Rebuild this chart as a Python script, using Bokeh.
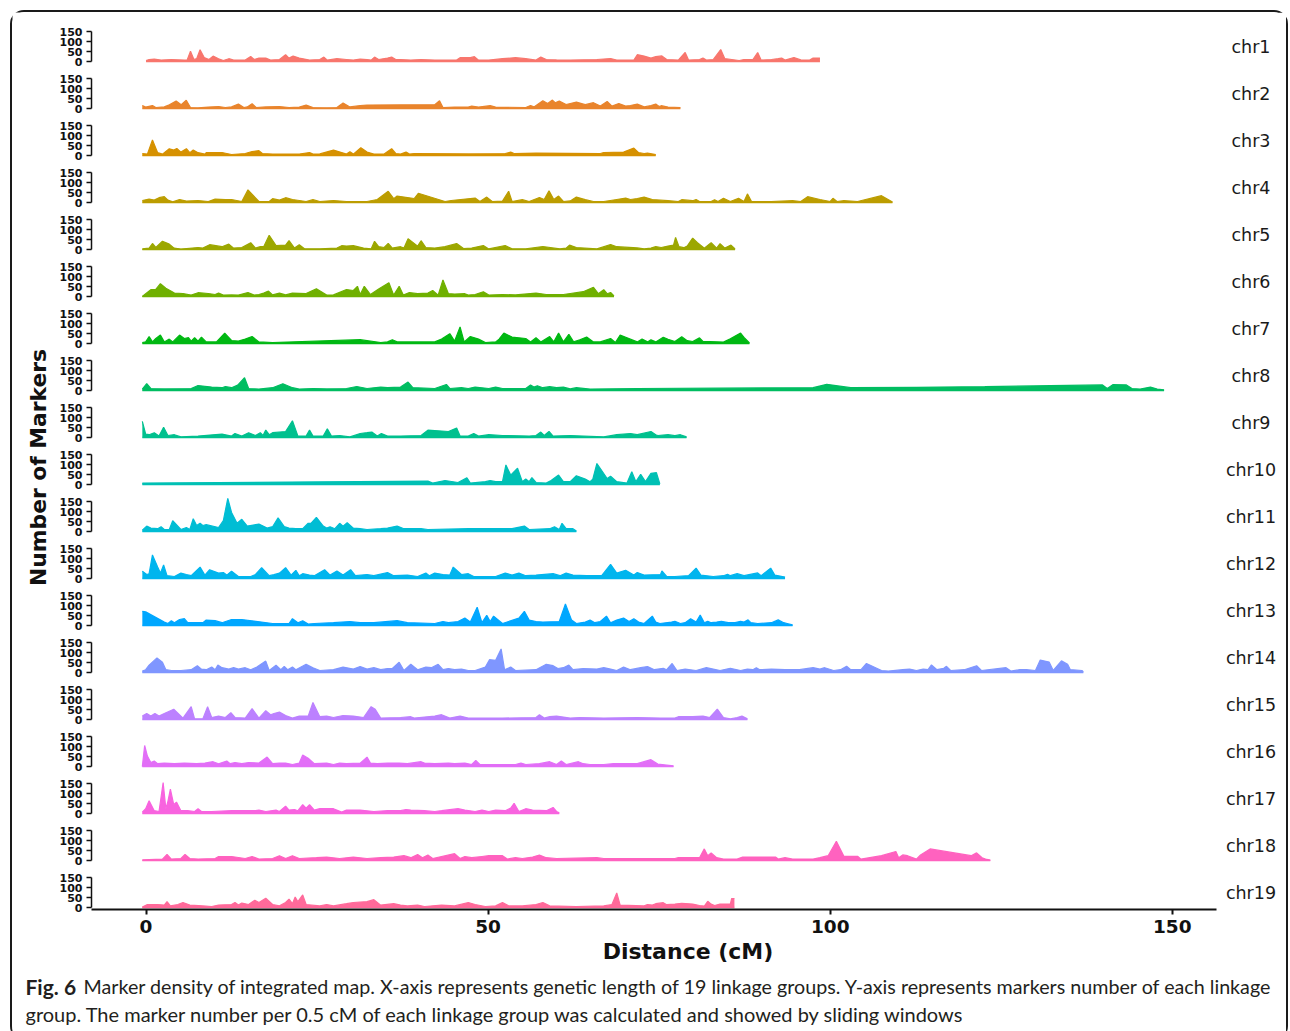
import math
from bokeh.plotting import figure
from bokeh.models import Range1d, FixedTicker, Label
from bokeh.layouts import column, row
from bokeh.embed import file_html
from bokeh.resources import INLINE

CHROMS = ["chr%d" % i for i in range(1, 20)]
X_TICKS = [0, 50, 100, 150]
Y_TICKS = [0, 50, 100, 150]
X_LABEL = "Distance (cM)"
Y_LABEL = "Number of Markers"
CAPTION_BOLD = "Fig. 6"
CAPTION_1 = ("Marker density of integrated map. X-axis represents genetic length of 19 linkage groups. "
             "Y-axis represents markers number of each linkage")
CAPTION_2 = "group. The marker number per 0.5 cM of each linkage group was calculated and showed by sliding windows"

# (position cM, number of markers)
chr1 = [(0,5),(0.45,10),(1.2,12),(2.2,7),(3.7,10),(5.6,7),(6.0,7),(6.5,51),(7.0,10),(7.4,14),(7.9,59),(8.5,20),(9.2,10),(9.8,27),(10.6,14),(11.3,5),(12.1,14),(12.8,7),(14.5,7),(15.3,25),(15.8,10),(16.5,17),(17.5,17),(18.2,7),(19.5,10),(20.4,34),(20.9,17),(21.5,27),(22.4,17),(23.9,7),(25.4,10),(26.0,22),(26.5,7),(27.9,14),(29.3,10),(30.3,7),(31.3,12),(32.3,10),(32.9,7),(33.4,22),(34.0,10),(35.3,17),(35.9,22),(36.5,10),(37.2,10),(38.7,7),(40.2,10),(42.2,7),(45.4,7),(45.9,19),(47.4,19),(48.0,24),(48.6,7),(50.1,7),(52.1,14),(54.0,19),(55.5,14),(57.0,7),(57.7,22),(58.5,10),(60.0,8),(62.0,7),(65.9,10),(67.9,15),(68.8,7),(71.3,7),(71.8,34),(72.8,27),(73.8,17),(74.5,24),(75.4,28),(76.1,10),(77.8,7),(78.8,45),(79.3,7),(80.9,10),(81.4,17),(81.9,7),(82.9,10),(84.0,60),(84.6,14),(85.6,10),(86.7,5),(87.4,10),(88.7,10),(89.4,45),(89.9,7),(91.4,10),(92.4,14),(92.9,17),(93.4,7),(94.7,20),(95.7,8),(97.0,7),(97.5,17),(98.5,17)]
chr2 = [(-0.54,15),(-0.05,7),(0.94,15),(1.43,5),(2.67,8),(3.41,19),(4.4,37),(5.14,19),(5.88,41),(6.5,5),(7.6,3),(9.1,7),(10.6,10),(11.6,5),(12.5,8),(13.5,22),(14.3,5),(14.8,8),(15.5,24),(16.1,5),(17.5,8),(19.5,10),(20.9,5),(22.4,7),(23.4,17),(24.4,5),(26.4,3),(27.9,5),(28.8,27),(29.8,8),(31.3,15),(32.3,17),(42.2,19),(42.9,39),(43.4,5),(45.1,7),(47.1,7),(47.6,12),(48.6,7),(50.3,14),(51.1,7),(55.5,5),(56.2,15),(56.7,8),(58.0,39),(58.7,25),(59.4,42),(59.8,29),(60.4,37),(61.4,20),(62.9,32),(64.2,19),(65.4,29),(66.4,12),(67.4,35),(68.1,12),(69.1,25),(70.1,12),(70.8,15),(71.8,22),(72.8,8),(73.8,15),(74.5,22),(75.0,10),(75.3,14),(76.3,7),(78.1,5)]
chr3 = [(-0.54,10),(0.2,7),(0.94,78),(1.7,14),(2.4,7),(3.4,34),(4.05,27),(4.5,35),(5.1,17),(5.9,34),(6.4,14),(6.9,27),(7.6,14),(8.6,7),(8.8,14),(11.1,15),(12.5,5),(14.5,10),(15.5,20),(16.5,24),(17.0,10),(18.5,7),(22.4,7),(23.9,15),(24.4,7),(25.4,8),(27.4,27),(29.3,7),(29.8,19),(30.3,7),(31.4,39),(32.3,17),(33.3,7),(34.8,7),(35.9,34),(36.5,10),(37.2,7),(38.0,17),(38.5,7),(39.2,10),(47.1,8),(52.5,10),(53.3,17),(53.8,10),(57.0,12),(66.4,10),(66.9,15),(69.8,17),(71.3,37),(72.0,14),(72.8,10),(73.3,12),(74.5,5)]
chr4 = [(-0.54,10),(0.45,17),(1.2,12),(1.9,24),(2.67,29),(3.2,12),(3.9,3),(4.9,15),(5.9,7),(7.6,10),(9.1,5),(10.1,17),(11.6,14),(12.5,15),(14.0,5),(14.9,63),(16.5,5),(18.0,5),(18.5,19),(19.5,12),(20.4,24),(21.4,15),(23.4,5),(24.4,14),(25.4,5),(27.4,10),(29.3,5),(32.3,5),(33.8,15),(35.4,56),(36.2,19),(36.7,32),(39.2,20),(39.8,46),(43.7,5),(44.6,10),(48.1,22),(48.8,5),(49.8,27),(50.6,5),(52.1,7),(53.0,56),(53.5,5),(55.0,14),(56.0,5),(57.5,25),(58.2,15),(58.9,59),(59.6,15),(60.3,32),(61.0,5),(62.0,8),(62.9,27),(64.2,14),(65.4,5),(66.9,5),(68.8,15),(70.1,22),(70.8,15),(71.8,20),(72.8,27),(74.0,15),(76.3,9),(77.8,5),(78.3,14),(79.9,9),(80.4,15),(80.9,5),(82.6,5),(83.1,14),(83.6,5),(84.4,21),(85.4,5),(86.6,21),(87.4,5),(87.9,43),(88.5,5),(91.4,5),(94.5,9),(95.7,5),(96.7,29),(98.5,15),(100.0,5),(100.4,21),(101.0,5),(102.0,9),(104.0,5),(107.5,34),(109.1,3)]
chr5 = [(-0.54,3),(0.45,7),(0.94,30),(1.43,10),(2.4,41),(3.4,27),(4.1,7),(5.1,2),(7.6,10),(8.3,7),(9.3,24),(11.1,14),(12.1,27),(12.8,7),(14.0,10),(15.3,34),(16.0,7),(16.7,14),(17.2,14),(18.0,71),(19.0,20),(20.4,22),(20.9,44),(21.7,7),(22.4,24),(23.2,3),(25.4,3),(27.9,7),(28.6,19),(29.3,17),(30.3,19),(31.8,7),(32.9,3),(33.4,41),(34.0,14),(34.8,10),(35.4,30),(36.0,7),(37.2,14),(37.7,7),(38.3,54),(39.7,17),(40.2,44),(40.9,10),(42.2,7),(43.7,14),(45.4,30),(46.4,5),(47.6,7),(49.3,20),(50.1,3),(52.5,20),(53.5,3),(55.5,3),(58.0,15),(60.5,3),(61.4,7),(61.9,22),(62.9,10),(65.9,3),(67.9,25),(68.8,14),(71.8,8),(72.8,3),(73.8,7),(74.5,14),(75.3,10),(76.3,17),(77.1,22),(77.4,60),(77.9,14),(78.6,9),(79.1,17),(79.9,57),(80.6,34),(81.6,7),(82.6,34),(83.4,7),(83.9,29),(84.6,7),(85.5,22),(86.1,3)]
chr6 = [(-0.54,0),(-0.05,14),(0.7,34),(1.4,34),(2.1,64),(2.9,41),(4.15,17),(5.4,15),(6.6,7),(7.6,19),(9.1,15),(10.1,10),(10.6,17),(11.3,7),(12.5,8),(13.5,7),(14.9,20),(15.8,7),(16.5,10),(17.2,17),(17.9,27),(18.5,8),(19.5,17),(20.4,8),(21.4,17),(23.4,15),(24.9,39),(26.4,7),(27.4,8),(29.3,35),(30.3,30),(30.9,51),(31.3,10),(31.9,51),(32.8,10),(34.0,37),(35.5,69),(36.2,7),(37.0,51),(37.6,7),(38.5,20),(39.7,14),(41.2,17),(41.9,30),(42.7,7),(43.4,83),(44.2,14),(45.1,12),(46.6,14),(47.1,7),(48.1,10),(49.3,24),(50.1,7),(52.1,10),(54.0,8),(57.0,17),(58.5,10),(61.0,10),(62.0,15),(63.9,24),(65.4,46),(66.1,14),(66.9,34),(67.4,14),(67.9,20),(68.4,3)]
chr7 = [(-0.54,5),(-0.05,8),(0.45,34),(0.94,8),(1.43,25),(2.1,42),(2.67,8),(3.4,22),(3.9,8),(4.9,42),(5.6,25),(6.2,29),(6.6,12),(7.1,29),(7.6,12),(8.1,32),(8.8,8),(10.3,8),(11.5,52),(12.5,15),(13.5,12),(14.5,22),(15.5,35),(16.5,8),(18.5,5),(31.3,19),(34.3,5),(35.3,8),(36.0,19),(36.7,8),(38.7,8),(42.2,8),(43.2,22),(44.4,49),(45.1,12),(45.9,83),(46.5,8),(47.4,35),(48.6,22),(49.6,5),(51.1,8),(51.6,22),(52.3,52),(53.5,32),(55.5,25),(56.2,8),(57.0,29),(57.7,8),(59.0,35),(59.6,8),(60.3,52),(61.0,8),(61.8,46),(62.5,8),(63.4,19),(64.4,32),(65.4,8),(66.4,8),(67.9,25),(68.6,5),(69.3,42),(70.3,29),(71.8,8),(72.5,22),(73.3,8),(73.8,19),(74.5,8),(75.6,31),(76.3,21),(77.3,10),(78.3,34),(79.1,14),(79.9,10),(80.9,28),(81.4,10),(82.4,10),(84.4,7),(85.4,24),(86.9,52),(87.4,31),(88.2,3)]
chr8 = [(-0.54,7),(0.1,34),(0.7,10),(2.67,8),(6.6,10),(7.6,25),(9.6,17),(11.1,14),(11.6,20),(12.5,14),(13.4,27),(14.4,64),(15.0,10),(16.5,7),(18.5,14),(20.0,34),(21.4,14),(22.4,7),(24.4,10),(26.4,8),(29.3,10),(30.8,20),(32.3,10),(34.3,17),(35.3,14),(37.2,17),(38.3,42),(39.0,14),(42.2,10),(43.9,30),(44.4,10),(46.1,14),(47.1,10),(48.1,17),(50.1,10),(51.1,17),(52.1,10),(55.5,10),(56.2,27),(56.7,17),(57.2,24),(58.0,14),(59.0,19),(60.0,14),(61.0,17),(62.0,8),(62.9,14),(64.9,7),(71.8,10),(97.5,14),(99.5,31),(103.0,14),(112.6,16),(122.6,19),(139.8,28),(140.5,10),(141.3,29),(143.3,28),(144.1,10),(145.3,7),(146.8,17),(147.8,7),(148.8,3)]
chr9 = [(-0.54,81),(-0.05,17),(0.45,14),(1.2,24),(1.9,7),(2.57,51),(3.2,10),(4.15,14),(5.1,3),(7.6,7),(11.1,17),(12.5,7),(13.0,20),(14.0,7),(15.0,24),(16.0,10),(16.7,24),(17.1,10),(17.5,37),(18.0,14),(18.5,24),(20.4,30),(21.4,84),(22.2,7),(23.4,7),(23.9,37),(24.4,7),(25.9,7),(26.5,44),(27.1,7),(28.3,10),(29.8,3),(31.3,20),(32.3,24),(33.0,27),(33.8,7),(34.4,20),(35.3,7),(37.2,7),(40.2,10),(41.2,37),(44.2,30),(45.4,47),(45.9,7),(47.1,7),(47.9,20),(48.6,7),(50.1,14),(52.1,10),(56.0,7),(57.0,10),(57.7,27),(58.2,10),(58.9,30),(59.5,7),(62.0,10),(66.9,3),(68.8,14),(70.8,20),(71.8,14),(73.8,30),(74.5,14),(74.8,10),(76.3,14),(77.3,9),(78.1,14),(79.0,3)]
chr10 = [(-0.54,7),(41.2,17),(41.9,7),(43.7,20),(45.6,10),(46.9,34),(47.4,7),(49.6,14),(50.3,20),(51.1,14),(52.1,14),(52.6,98),(53.3,47),(54.3,81),(55.0,14),(55.5,27),(56.0,14),(56.4,34),(57.0,10),(58.5,7),(59.2,20),(60.3,47),(61.0,14),(62.0,14),(62.9,44),(64.2,27),(64.9,14),(65.3,27),(65.9,105),(67.4,30),(67.9,41),(68.8,14),(70.3,7),(71.0,64),(71.6,14),(72.3,51),(73.0,14),(73.8,56),(74.6,59),(75.1,3)]
chr11 = [(-0.54,7),(0.1,27),(0.7,17),(1.7,14),(2.2,24),(2.67,10),(3.4,10),(3.9,54),(5.1,10),(5.9,20),(6.4,10),(6.9,64),(7.4,30),(7.9,41),(8.3,30),(8.8,34),(10.6,20),(11.3,54),(11.95,166),(12.5,95),(13.3,41),(14.0,61),(14.8,27),(16.5,37),(17.7,17),(18.5,24),(19.3,68),(20.2,24),(20.9,17),(21.9,14),(22.9,14),(23.7,41),(24.1,41),(24.9,71),(25.9,27),(26.4,17),(26.9,24),(27.6,14),(28.3,41),(28.8,27),(29.4,44),(30.3,17),(31.3,14),(32.3,10),(34.3,14),(35.3,17),(36.7,27),(37.7,14),(40.2,14),(41.2,10),(47.1,14),(53.5,14),(55.3,27),(56.0,10),(59.0,14),(59.7,24),(60.4,10),(60.8,41),(61.4,14),(62.4,14),(62.9,3)]
chr12 = [(-0.54,37),(0.1,20),(0.45,24),(0.94,118),(1.7,57),(2.1,27),(2.57,68),(3.07,14),(4.15,10),(5.1,27),(5.9,20),(6.6,14),(7.9,57),(8.6,17),(9.3,44),(10.6,27),(11.3,30),(11.8,17),(12.5,37),(13.5,10),(15.3,10),(16.0,20),(16.9,54),(18.0,14),(18.7,19),(19.5,27),(20.4,54),(21.2,17),(21.9,41),(22.4,14),(22.9,24),(23.9,17),(24.6,14),(26.1,44),(26.9,17),(27.9,37),(28.8,17),(29.9,44),(30.6,14),(32.3,20),(33.3,14),(35.3,30),(36.2,14),(38.2,17),(39.7,10),(40.9,27),(41.4,14),(42.2,27),(43.4,20),(44.4,17),(44.9,57),(46.1,20),(47.1,24),(47.9,10),(51.1,10),(52.5,27),(53.5,17),(54.5,27),(55.5,14),(57.0,17),(59.5,24),(60.5,14),(61.4,27),(62.4,17),(64.4,14),(66.6,14),(67.9,71),(68.8,27),(70.1,41),(71.3,17),(71.8,30),(72.8,17),(75.2,20),(75.4,38),(76.1,10),(77.3,10),(79.3,14),(80.4,52),(81.1,17),(82.9,10),(84.4,14),(85.0,21),(85.4,14),(86.4,24),(87.4,14),(89.4,28),(89.9,14),(91.3,52),(91.9,17),(93.4,7)]
chr13 = [(-0.54,71),(-0.05,68),(2.67,17),(3.2,10),(3.7,24),(4.15,14),(4.9,30),(5.6,34),(6.1,14),(8.3,14),(8.8,27),(10.1,24),(11.1,14),(12.5,30),(14.0,30),(18.5,10),(20.9,10),(21.4,34),(22.2,14),(22.9,24),(23.7,7),(24.6,10),(27.4,14),(29.8,20),(31.3,14),(33.3,14),(36.7,24),(38.2,14),(42.2,10),(43.4,20),(44.2,14),(45.6,20),(46.6,37),(47.4,17),(48.4,91),(49.1,14),(49.8,51),(50.3,20),(50.8,47),(52.1,10),(54.5,37),(55.3,71),(56.0,27),(57.0,20),(58.0,17),(60.4,20),(61.3,108),(62.2,27),(62.9,10),(64.2,17),(64.9,27),(65.6,14),(66.4,20),(67.3,47),(67.9,14),(68.8,27),(69.8,37),(70.6,20),(71.3,34),(72.0,17),(72.8,10),(74.0,47),(74.5,17),(75.1,10),(76.8,17),(77.3,21),(78.1,10),(78.8,14),(79.6,34),(80.4,17),(81.0,52),(81.6,14),(82.1,21),(82.6,14),(83.4,17),(84.1,21),(85.1,14),(86.1,14),(86.9,21),(87.4,17),(88.0,28),(88.4,14),(89.4,10),(91.4,14),(92.4,28),(93.2,14),(93.7,10),(94.5,3)]
chr14 = [(-0.54,7),(-0.05,14),(0.45,37),(1.6,73),(2.4,51),(2.9,14),(3.7,10),(5.1,10),(6.6,14),(7.5,34),(8.1,17),(8.8,14),(9.6,27),(10.1,14),(10.5,37),(11.1,24),(12.1,17),(12.8,24),(13.5,17),(14.5,24),(15.3,14),(16.2,27),(17.5,57),(18.0,10),(19.0,37),(19.7,14),(20.2,30),(20.7,14),(21.4,27),(21.9,14),(23.4,41),(24.4,24),(25.4,10),(27.4,14),(28.8,27),(30.3,17),(31.3,30),(32.3,17),(33.3,24),(34.3,14),(35.3,20),(36.0,20),(37.0,51),(37.7,10),(38.7,41),(39.7,14),(40.9,27),(41.7,24),(42.7,41),(43.4,14),(44.2,20),(45.1,14),(46.1,17),(47.1,10),(48.1,10),(49.6,27),(50.2,64),(51.1,61),(51.9,118),(52.4,14),(53.3,27),(54.0,10),(57.0,14),(58.5,41),(59.5,34),(60.2,20),(61.0,24),(61.8,37),(62.4,14),(63.9,20),(65.9,17),(66.9,24),(67.9,17),(68.8,10),(69.8,27),(70.8,14),(72.3,24),(73.3,30),(74.3,14),(75.6,21),(76.1,14),(76.9,45),(77.6,10),(78.8,17),(80.4,10),(81.9,24),(82.9,17),(83.9,10),(85.4,21),(86.9,10),(87.9,17),(88.7,14),(89.2,24),(89.7,14),(91.4,17),(93.4,14),(95.5,14),(97.5,24),(98.5,17),(99.2,24),(100.5,10),(101.5,14),(102.4,31),(103.0,14),(104.5,14),(105.3,45),(107.5,10),(108.5,7),(110.6,14),(111.6,17),(112.6,10),(113.6,17),(114.3,14),(114.8,38),(115.6,14),(116.6,21),(117.0,31),(117.6,10),(119.6,14),(121.4,34),(122.1,10),(125.7,24),(126.4,7),(127.7,14),(128.7,14),(130.0,10),(130.7,62),(132.0,52),(132.6,10),(133.8,58),(134.7,41),(135.1,14),(136.8,10),(137.0,3)]
chr15 = [(-0.54,17),(0.1,30),(0.7,17),(1.3,30),(1.9,17),(2.67,30),(4.05,51),(5.4,7),(6.6,64),(7.1,3),(8.3,3),(9.0,64),(9.6,10),(10.6,17),(11.6,10),(12.4,34),(13.0,10),(14.5,7),(15.5,54),(16.5,7),(17.5,44),(18.2,24),(18.7,30),(19.5,37),(20.4,20),(21.4,7),(22.4,17),(23.7,17),(24.4,85),(25.4,14),(26.4,17),(27.4,10),(28.8,20),(30.3,17),(31.8,10),(32.9,64),(33.5,51),(34.3,7),(37.2,10),(38.7,14),(39.2,7),(42.2,17),(43.2,24),(44.4,7),(45.9,17),(47.1,7),(52.1,7),(57.0,10),(57.5,24),(58.2,7),(59.0,14),(60.0,17),(62.0,7),(63.4,10),(66.9,7),(71.8,10),(75.2,7),(77.3,7),(77.8,14),(79.9,14),(81.4,17),(82.4,10),(83.5,52),(84.4,10),(85.4,3),(86.4,10),(87.1,17),(87.9,3)]
chr16 = [(-0.54,0),(-0.2,105),(0.2,52),(0.7,20),(1.2,27),(1.7,14),(2.67,17),(4.15,14),(5.6,17),(7.4,14),(8.6,17),(9.8,24),(10.6,14),(11.8,27),(12.3,14),(13.0,20),(14.0,14),(15.0,20),(16.5,17),(17.7,47),(18.5,14),(19.5,17),(20.4,17),(21.4,10),(22.4,17),(22.9,57),(23.7,41),(24.6,14),(26.4,17),(27.4,10),(28.3,17),(29.3,14),(31.3,17),(32.3,47),(32.8,17),(33.8,14),(35.3,17),(37.0,17),(38.2,14),(40.2,24),(40.7,17),(42.2,14),(44.2,17),(45.1,14),(46.6,17),(47.6,10),(48.2,30),(48.8,10),(54.0,10),(54.8,17),(55.5,10),(57.5,14),(59.0,24),(60.0,10),(60.7,27),(61.4,10),(63.2,24),(63.9,14),(64.9,10),(66.9,10),(68.3,14),(71.8,14),(73.8,34),(74.8,12),(77.1,3)]
chr17 = [(-0.54,7),(-0.05,24),(0.45,64),(1.2,14),(1.9,10),(2.5,155),(2.9,24),(3.2,61),(3.56,122),(4.05,44),(4.45,57),(5.1,14),(6.1,14),(7.1,10),(7.6,24),(8.1,10),(9.6,10),(12.5,14),(16.0,14),(16.5,17),(17.5,10),(19.0,17),(19.5,10),(20.4,37),(20.9,17),(21.7,20),(22.2,14),(22.9,44),(23.4,27),(23.9,44),(24.6,17),(25.4,24),(27.4,24),(28.6,7),(29.3,17),(31.3,17),(33.3,10),(35.3,14),(37.2,14),(38.0,20),(38.7,17),(40.7,14),(42.2,10),(43.2,14),(45.6,24),(46.6,17),(48.1,10),(49.1,17),(50.1,10),(51.1,17),(52.5,14),(53.3,27),(53.8,51),(54.5,10),(55.5,24),(56.5,17),(58.5,14),(59.5,30),(60.0,10),(60.4,3)]
chr18 = [(-0.54,3),(2.4,7),(3.07,30),(3.7,7),(5.1,10),(5.7,30),(6.4,10),(7.6,7),(10.1,10),(10.6,20),(12.5,20),(14.5,10),(15.5,20),(16.5,7),(18.5,10),(19.5,24),(20.4,10),(21.4,24),(22.4,10),(24.9,14),(26.4,17),(28.3,10),(30.3,17),(32.3,10),(34.3,14),(36.2,17),(37.7,24),(38.7,14),(39.7,30),(40.4,14),(41.2,27),(41.9,10),(45.1,34),(45.9,10),(46.6,20),(47.6,14),(49.1,20),(50.1,24),(52.1,24),(52.8,7),(54.0,14),(55.0,10),(56.5,17),(57.5,27),(58.5,14),(60.0,10),(65.9,14),(66.9,10),(68.8,10),(71.8,10),(77.3,10),(77.8,14),(80.9,14),(81.6,58),(82.1,24),(82.6,38),(83.4,14),(84.4,7),(86.4,7),(87.2,17),(92.0,17),(92.4,7),(93.4,14),(94.5,7),(97.5,7),(98.5,14),(99.7,24),(100.9,96),(102.0,21),(104.0,21),(104.5,7),(107.5,24),(109.6,45),(110.0,14),(110.6,28),(111.3,24),(112.6,7),(113.2,28),(114.6,58),(120.6,24),(121.4,38),(122.2,14),(122.7,7),(123.4,2)]
chr19 = [(-0.54,2),(0.2,15),(1.7,15),(2.67,12),(3.07,29),(3.56,8),(4.65,15),(5.4,25),(6.4,12),(8.3,8),(9.6,5),(10.6,12),(12.5,15),(13.0,25),(13.5,12),(14.0,22),(15.0,15),(15.4,25),(15.9,36),(16.5,25),(17.5,46),(18.5,15),(19.5,8),(20.4,25),(20.9,42),(21.4,19),(21.8,52),(22.2,29),(22.9,63),(23.4,15),(25.4,8),(26.4,15),(27.4,8),(29.3,19),(30.3,25),(32.3,29),(33.3,39),(34.3,12),(36.2,19),(37.2,12),(38.2,8),(39.7,12),(40.7,5),(43.2,12),(45.1,8),(47.1,25),(48.1,15),(49.6,5),(51.1,8),(52.1,25),(53.0,8),(55.0,8),(57.0,15),(58.0,25),(59.0,8),(62.9,5),(66.9,8),(68.1,15),(68.8,73),(69.3,12),(72.8,8),(73.3,15),(74.0,12),(74.5,19),(75.6,24),(76.1,14),(77.3,17),(78.3,21),(79.9,17),(80.9,10),(81.6,7),(82.1,31),(82.6,17),(83.1,10),(83.9,17),(85.4,17),(85.6,45),(86.0,45)]

SERIES = [chr1, chr2, chr3, chr4, chr5, chr6, chr7, chr8, chr9, chr10,
          chr11, chr12, chr13, chr14, chr15, chr16, chr17, chr18, chr19]


def hue_colors(n, c=100.0, l=65.0):
    """ggplot2-style evenly spaced HCL hues."""
    out = []
    Xn, Yn, Zn = 95.047, 100.0, 108.883
    den = Xn + 15 * Yn + 3 * Zn
    un, vn = 4 * Xn / den, 9 * Yn / den
    for k in range(n):
        h = 15 + 360.0 * k / n
        U = c * math.cos(math.radians(h))
        V = c * math.sin(math.radians(h))
        Y = Yn * ((l + 16) / 116.0) ** 3
        u = U / (13 * l) + un
        v = V / (13 * l) + vn
        X = 9.0 * Y * u / (4 * v)
        Z = -X / 3.0 - 5 * Y + 3 * Y / v
        X, Y, Z = X / 100.0, Y / 100.0, Z / 100.0
        r = 3.240479 * X - 1.537150 * Y - 0.498535 * Z
        g = -0.969256 * X + 1.875992 * Y + 0.041556 * Z
        b = 0.055648 * X - 0.204043 * Y + 1.057311 * Z

        def gam(t):
            t = 12.92 * t if t <= 0.0031308 else 1.055 * t ** (1 / 2.4) - 0.055
            return max(0.0, min(1.0, t))
        out.append("#%02x%02x%02x" % tuple(int(round(gam(t) * 255)) for t in (r, g, b)))
    return out


COLORS = hue_colors(len(CHROMS))
INK = "#111111"

XR = Range1d(-7.97, 166.4)
panels = []
for i, (name, data, col) in enumerate(zip(CHROMS, SERIES, COLORS)):
    first = i == 0
    last = i == len(CHROMS) - 1
    if last:
        yr = Range1d(-10, 200)
        fh = 42
    else:
        yr = Range1d(-35, 200)
        fh = 47
    p = figure(frame_width=1193, frame_height=fh, x_range=XR, y_range=yr,
               output_backend="svg", toolbar_location=None,
               x_axis_location="below" if last else None, y_axis_location="left",
               min_border_left=39, min_border_right=2,
               min_border_top=9 if first else 0, min_border_bottom=56 if last else 0,
               outline_line_color=None, background_fill_color="white",
               border_fill_color="white")
    p.grid.visible = False
    xs = [d[0] for d in data]
    ys = [d[1] for d in data]
    p.varea(x=xs, y1=[0] * len(xs), y2=ys, fill_color=col)
    p.line(x=xs, y=ys, line_color=col, line_width=1.2)
    p.line(x=[xs[0], xs[-1]], y=[0, 0], line_color=col, line_width=1.5)

    ya = p.yaxis[0]
    ya.ticker = FixedTicker(ticks=Y_TICKS)
    ya.bounds = (0, 150)
    ya.axis_line_color = INK
    ya.axis_line_width = 1.5
    ya.major_tick_line_color = INK
    ya.major_tick_line_width = 1.5
    ya.major_tick_out = 5
    ya.major_tick_in = 0
    ya.minor_tick_line_color = None
    ya.major_label_standoff = 4
    ya.major_label_text_font = "DejaVu Sans"
    ya.major_label_text_font_style = "bold"
    ya.major_label_text_font_size = "11px"
    ya.major_label_text_color = INK

    p.add_layout(Label(x=161.5, y=73, text=name, text_align="center", text_baseline="middle",
                       text_font="DejaVu Sans", text_font_size="17.5px", text_color="#1a1a1a"))

    if last:
        xa = p.xaxis[0]
        xa.ticker = FixedTicker(ticks=X_TICKS)
        xa.bounds = (-7.97, 156.4)
        xa.axis_line_color = INK
        xa.axis_line_width = 2
        xa.major_tick_line_color = INK
        xa.major_tick_line_width = 2
        xa.major_tick_out = 5
        xa.major_tick_in = 0
        xa.minor_tick_line_color = None
        xa.major_label_standoff = 5
        xa.major_label_text_font = "DejaVu Sans"
        xa.major_label_text_font_style = "bold"
        xa.major_label_text_font_size = "18.5px"
        xa.major_label_text_color = INK
        xa.axis_label = X_LABEL
        xa.axis_label_standoff = 3
        xa.axis_label_text_font = "DejaVu Sans"
        xa.axis_label_text_font_style = "bold"
        xa.axis_label_text_font_size = "22px"
        xa.axis_label_text_color = INK
    panels.append(p)

PH = 9 + 47 * 18 + 42 + 56
ylab = figure(width=40, height=PH, x_range=Range1d(0, 40), y_range=Range1d(0, PH),
              output_backend="svg", toolbar_location=None, min_border=0,
              x_axis_location=None, y_axis_location=None, outline_line_color=None)
ylab.grid.visible = False
ylab.add_layout(Label(x=26, y=PH - 455, text=Y_LABEL, angle=math.pi / 2, text_align="center",
                      text_baseline="middle", text_font="DejaVu Sans", text_font_style="bold",
                      text_font_size="21.8px", text_color=INK))

cap = figure(width=1274, height=72, x_range=Range1d(0, 1274), y_range=Range1d(72, 0),
             output_backend="svg", toolbar_location=None, min_border=0,
             x_axis_location=None, y_axis_location=None, outline_line_color=None)
cap.grid.visible = False
cap.add_layout(Label(x=13, y=20, text=CAPTION_BOLD, text_align="left", text_baseline="middle",
                     text_font="Lato", text_font_style="bold", text_font_size="21px",
                     text_color="#231f20"))
cap.add_layout(Label(x=71, y=20, text=CAPTION_1, text_align="left", text_baseline="middle",
                     text_font="Lato", text_font_size="19.7px", text_color="#231f20"))
cap.add_layout(Label(x=13, y=47, text=CAPTION_2, text_align="left", text_baseline="middle",
                     text_font="Lato", text_font_size="20px", text_color="#231f20"))

layout = column(row(ylab, column(*panels, spacing=0), spacing=0), cap, spacing=0,
                margin=(10, 0, 0, 10),
                styles={"border": "2px solid #1a1a1a", "border-radius": "14px"})

open("out.html", "w").write(file_html(layout, INLINE))
